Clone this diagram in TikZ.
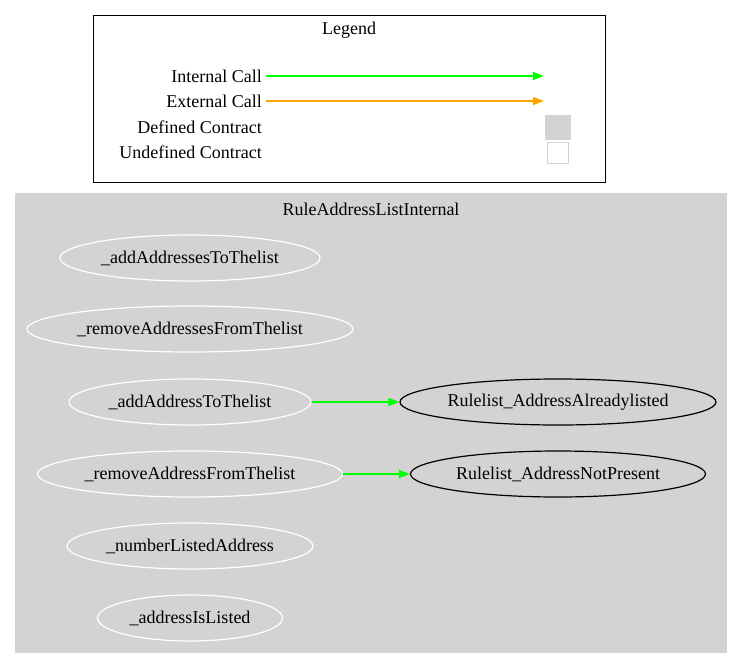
\documentclass[tikz,border=0pt]{standalone}
\usepackage{fontspec}
\setmainfont{Liberation Serif}
\usetikzlibrary{shapes.geometric,arrows.meta}
\definecolor{clgray}{HTML}{D3D3D3}
\definecolor{igreen}{HTML}{00FF00}
\definecolor{eorange}{HTML}{FFA500}
\newcommand{\zw}[1]{\makebox[0pt]{#1}}
\tikzset{
  every node/.style={font=\fontsize{18}{21}\selectfont, inner sep=0pt},
  fn/.style={ellipse, draw=white, line width=1.2pt, minimum height=46pt},
  ext/.style={ellipse, draw=black, line width=1.2pt, minimum height=46pt},
  lbl/.style={anchor=east},
  call/.style={-{Triangle[length=11pt,width=8pt]}, line width=1.3pt},
}
\begin{document}
\begin{tikzpicture}[x=1pt,y=-1pt]
\useasboundingbox (0,0) rectangle (743,669);
% legend
\node[draw=black, line width=1.2pt, minimum width=512pt, minimum height=167pt, anchor=north west] (legendbox) at (93,15) {};
\node (legendtitle) at (349,30) {Legend};
\node[lbl] (ic) at (262,76) {Internal Call};
\node[lbl] (ec) at (262,101) {External Call};
\node[lbl] (dc) at (262,127) {Defined Contract};
\node[lbl] (uc) at (262,152) {Undefined Contract};
\coordinate (ice) at (544,76);
\coordinate (ece) at (544,101);
\draw[call, igreen] (ic.east) ++(4,0) coordinate (ics) -- (ice);
\draw[call, eorange] (ec.east) ++(4,0) coordinate (ecs) -- (ece);
\node[draw=clgray, fill=clgray, minimum width=25pt, minimum height=24pt] (defbox) at (558,127) {};
\node[draw=clgray, fill=white, line width=1.2pt, minimum width=21pt, minimum height=21pt] (undefbox) at (558,153) {};
% cluster
\node[fill=clgray, minimum width=712pt, minimum height=460pt, anchor=north west] (cluster) at (15,193) {};
\node (clustertitle) at (371,209) {RuleAddressListInternal};
\node[fn, minimum width=260pt] (a1) at (190,258) {\zw{\_addAddressesToThelist}};
\node[fn, minimum width=326pt] (a2) at (190,329) {\zw{\_removeAddressesFromThelist}};
\node[fn, minimum width=242pt] (a3) at (190,402) {\zw{\_addAddressToThelist}};
\node[fn, minimum width=305pt] (a4) at (190,474) {\zw{\_removeAddressFromThelist}};
\node[fn, minimum width=246pt] (a5) at (190,546) {\zw{\_numberListedAddress}};
\node[fn, minimum width=185pt] (a6) at (190,618) {\zw{\_addressIsListed}};
\node[ext, minimum width=316pt] (b1) at (558,402) {\zw{Rulelist\_AddressAlreadylisted}};
\node[ext, minimum width=295pt] (b2) at (558,474) {\zw{Rulelist\_AddressNotPresent}};
\draw[call, igreen] (a3) -- (b1);
\draw[call, igreen] (a4) -- (b2);
\end{tikzpicture}
\end{document}
